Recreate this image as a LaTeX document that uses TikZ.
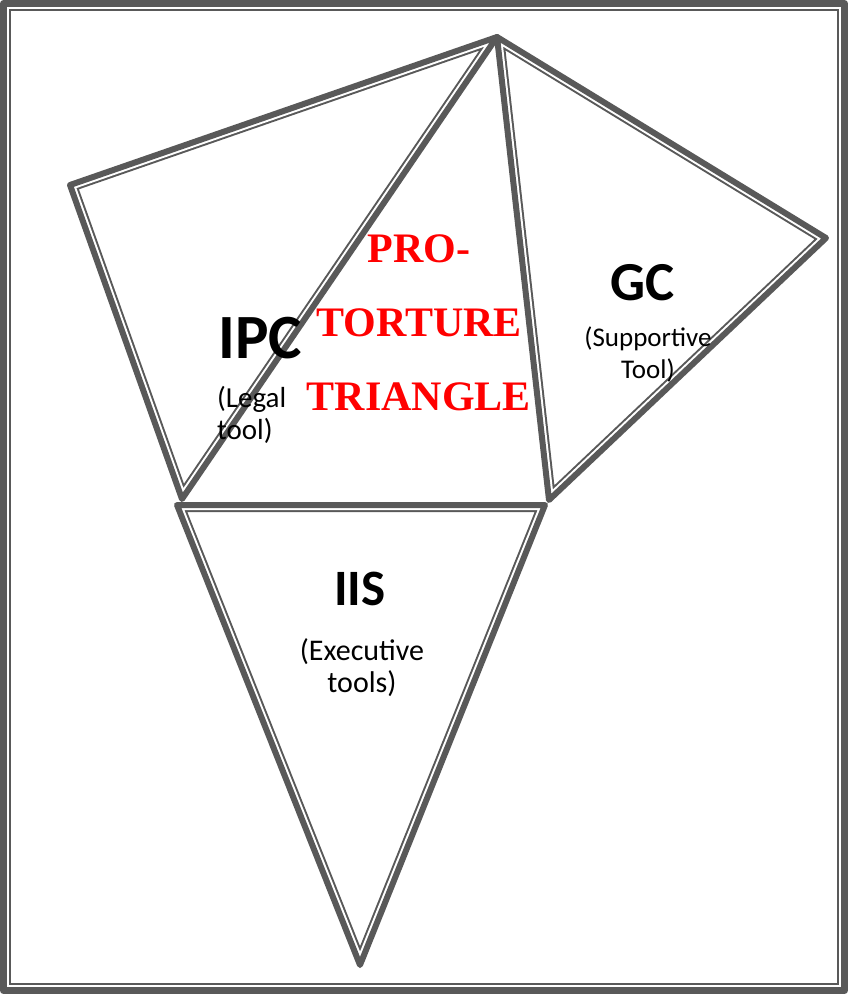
\documentclass[tikz,border=0pt]{standalone}
\usepackage{fontspec}
\setmainfont{Carlito}
\newfontfamily\timesfont{Liberation Serif}
\usetikzlibrary{calc}
\definecolor{linegray}{RGB}{89,89,89}

\tikzset{
  thickedge/.style={draw=linegray, line width=6pt, line join=round},
  bigtitle/.style={font=\fontsize{#1}{#1}\selectfont\bfseries, inner sep=0pt},
  subtitle/.style={font=\fontsize{#1}{32}\selectfont, inner sep=0pt},
  redtitle/.style={font=\timesfont\fontsize{42}{74}\selectfont\bfseries, text=red, inner sep=0pt, align=center},
}
% thin line running inside a thick edge
\newcommand{\innerline}[1]{%
  \begin{scope}
    \clip #1;
    \draw[linegray, line width=14pt] #1;
    \draw[white, line width=10pt] #1;
  \end{scope}}

\begin{document}
\begin{tikzpicture}[x=1pt, y=-1pt]
  \useasboundingbox (0,0) rectangle (848,994);
  % frame
  \draw[linegray, line width=7pt, line join=round] (3.5,3.5) rectangle (844.5,990.5);
  \draw[linegray, line width=2pt] (10,10) rectangle (838,984);

  % corners
  \coordinate (apex) at (497,37);
  \coordinate (ipcL) at (70,185);
  \coordinate (ipcB) at (182,499);
  \coordinate (gcR) at (826,238);
  \coordinate (gcB) at (549,500);
  \coordinate (iisL) at (177,505);
  \coordinate (iisR) at (545,505);
  \coordinate (iisB) at (360,965);

  \innerline{(apex) -- (ipcL) -- (ipcB) -- cycle}
  \innerline{(apex) -- (gcR) -- (gcB) -- cycle}
  \innerline{(iisL) -- (iisR) -- (iisB) -- cycle}
  \draw[thickedge] (apex) -- (ipcL) -- (ipcB) -- cycle;
  \draw[thickedge] (apex) -- (gcR) -- (gcB) -- cycle;
  \draw[thickedge] (iisL) -- (iisR) -- (iisB) -- cycle;

  % labels (base = last line)
  \node[bigtitle=63, anchor=base west] (ipc) at (218,358) {IPC};
  \node[subtitle=29, align=left, anchor=base west] (ipcsub) at (217,439) {(Legal\\tool)};
  \node[bigtitle=55, anchor=base] (gc) at (643,300) {GC};
  \node[subtitle=27, align=center, anchor=base] (gcsub) at (648,378) {(Supportive\\Tool)};
  \node[bigtitle=51, anchor=base] (iis) at (360,605) {IIS};
  \node[subtitle=30, align=center, anchor=base] (iissub) at (362,692) {(Executive\\tools)};
  \node[redtitle, anchor=base] (pro) at (419,410) {PRO-\\TORTURE\\TRIANGLE};
\end{tikzpicture}
\end{document}
